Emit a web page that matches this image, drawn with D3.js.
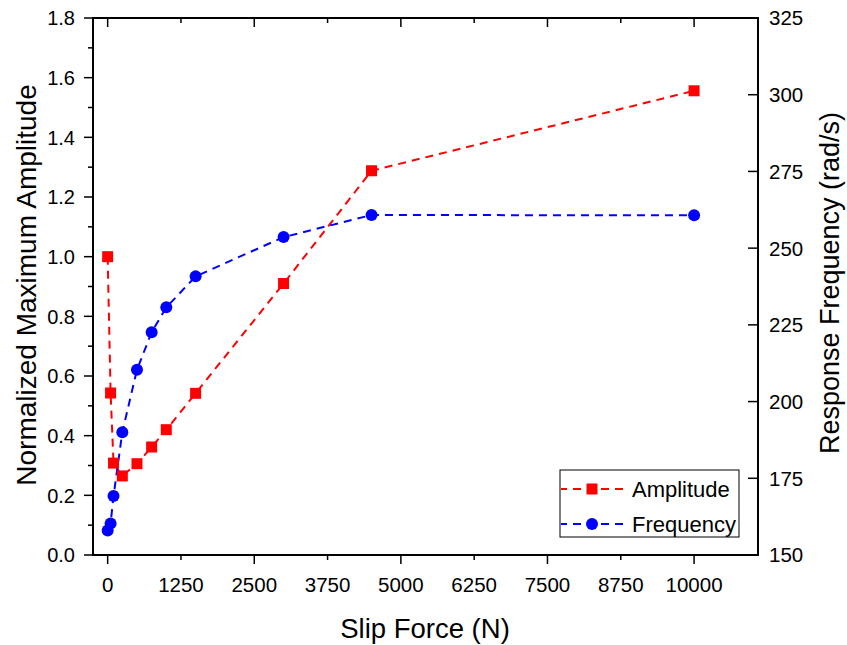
<!DOCTYPE html>
<html>
<head>
<meta charset="utf-8">
<script src="https://cdn.jsdelivr.net/npm/d3@7"></script>
<style>
  html, body { margin: 0; padding: 0; background: #fff; }
  svg text { font-family: "Liberation Sans", Arial, sans-serif; fill: #000; }
</style>
</head>
<body>
<svg id="chart" width="847" height="645"></svg>
<script>
const slipForce = [0, 50, 100, 250, 500, 750, 1000, 1500, 3000, 4500, 10000];
const amplitude = [1.0, 0.543, 0.308, 0.265, 0.306, 0.362, 0.42, 0.542, 0.91, 1.288, 1.556];
const frequency = [158.0, 160.3, 169.2, 190.0, 210.4, 222.6, 230.7, 240.8, 253.6, 260.8, 260.7];
const xTicks = [0, 1250, 2500, 3750, 5000, 6250, 7500, 8750, 10000];
const xMajor = [0, 2500, 5000, 7500, 10000];
const yLeftTicks = [0, 0.2, 0.4, 0.6, 0.8, 1.0, 1.2, 1.4, 1.6, 1.8];
const yRightTicks = [150, 175, 200, 225, 250, 275, 300, 325];
const legendLabels = ["Amplitude", "Frequency"];

const svg = d3.select("#chart");
const L = 93, R = 758, T = 18, B = 555;

const x = d3.scaleLinear().domain([-250, 11090]).range([L, R]);
const yL = d3.scaleLinear().domain([0, 1.8]).range([B, T]);
const yR = d3.scaleLinear().domain([150, 325]).range([B, T]);

const RED = "#ff0000", BLUE = "#0000ff";

// frame
const frame = svg.append("g").attr("stroke", "#000").attr("stroke-width", 2).attr("fill", "none");
frame.append("path").attr("d", `M${L},${T}H${R}V${B}H${L}Z`);

// bottom / top axis ticks
const bx = svg.append("g").attr("stroke", "#000").attr("stroke-width", 1.5);
xTicks.forEach(v => {
  const len = xMajor.includes(v) ? 9 : 5;
  bx.append("line").attr("x1", x(v)).attr("x2", x(v)).attr("y1", B).attr("y2", B + len);
  bx.append("line").attr("x1", x(v)).attr("x2", x(v)).attr("y1", T).attr("y2", T + len);
});
svg.append("g").selectAll("text").data(xTicks).join("text")
  .attr("x", d => x(d)).attr("y", 592).attr("text-anchor", "middle")
  .attr("font-size", 20.5).text(d => d);

// left axis
const ly = svg.append("g").attr("stroke", "#000").attr("stroke-width", 1.5);
d3.range(0, 19).forEach(i => {
  const v = i / 10;
  const len = i % 2 === 0 ? 9 : 5;
  ly.append("line").attr("x1", L).attr("x2", L - len).attr("y1", yL(v)).attr("y2", yL(v));
});
svg.append("g").selectAll("text").data(yLeftTicks).join("text")
  .attr("x", 75).attr("y", d => yL(d)).attr("dy", "0.36em").attr("text-anchor", "end")
  .attr("font-size", 20).text(d => d.toFixed(1));

// right axis
const ry = svg.append("g").attr("stroke", "#000").attr("stroke-width", 1.5);
yRightTicks.forEach(v => {
  ry.append("line").attr("x1", R).attr("x2", R - 10).attr("y1", yR(v)).attr("y2", yR(v));
});
svg.append("g").selectAll("text").data(yRightTicks).join("text")
  .attr("x", 769).attr("y", d => yR(d)).attr("dy", "0.36em").attr("text-anchor", "start")
  .attr("font-size", 20.5).text(d => d);

// titles
svg.append("text").attr("x", 425).attr("y", 638).attr("text-anchor", "middle")
  .attr("font-size", 27.5).text("Slip Force (N)");
svg.append("text").attr("transform", "translate(36,285) rotate(-90)").attr("text-anchor", "middle")
  .attr("font-size", 28).text("Normalized Maximum Amplitude");
svg.append("text").attr("transform", "translate(839,283) rotate(-90)").attr("text-anchor", "middle")
  .attr("font-size", 27).text("Response Frequency (rad/s)");

// series
const ampPts = slipForce.map((f, i) => [x(f), yL(amplitude[i])]);
const freqPts = slipForce.map((f, i) => [x(f), yR(frequency[i])]);
const line = d3.line();

svg.append("path").attr("d", line(ampPts)).attr("fill", "none").attr("stroke", RED)
  .attr("stroke-width", 2).attr("stroke-dasharray", "8,6");
svg.append("path").attr("d", line(freqPts)).attr("fill", "none").attr("stroke", BLUE)
  .attr("stroke-width", 2).attr("stroke-dasharray", "8,6");

svg.append("g").selectAll("rect").data(ampPts).join("rect")
  .attr("x", d => d[0] - 5.5).attr("y", d => d[1] - 5.5).attr("width", 11).attr("height", 11)
  .attr("fill", RED);
svg.append("g").selectAll("circle").data(freqPts).join("circle")
  .attr("cx", d => d[0]).attr("cy", d => d[1]).attr("r", 6).attr("fill", BLUE);

// legend
const lg = svg.append("g");
lg.append("rect").attr("x", 560).attr("y", 470).attr("width", 179).attr("height", 67)
  .attr("fill", "#fff").attr("stroke", "#000").attr("stroke-width", 1);
const lyPos = [489, 524];
[RED, BLUE].forEach((c, i) => {
  lg.append("line").attr("x1", 561).attr("x2", 624).attr("y1", lyPos[i]).attr("y2", lyPos[i])
    .attr("stroke", c).attr("stroke-width", 2).attr("stroke-dasharray", "8,6").attr("stroke-dashoffset", 2);
  if (i === 0) {
    lg.append("rect").attr("x", 592 - 5.5).attr("y", lyPos[i] - 5.5).attr("width", 11).attr("height", 11).attr("fill", c);
  } else {
    lg.append("circle").attr("cx", 592).attr("cy", lyPos[i]).attr("r", 6).attr("fill", c);
  }
  lg.append("text").attr("x", 632).attr("y", lyPos[i]).attr("dy", "0.36em")
    .attr("font-size", 22).text(legendLabels[i]);
});
</script>
</body>
</html>
